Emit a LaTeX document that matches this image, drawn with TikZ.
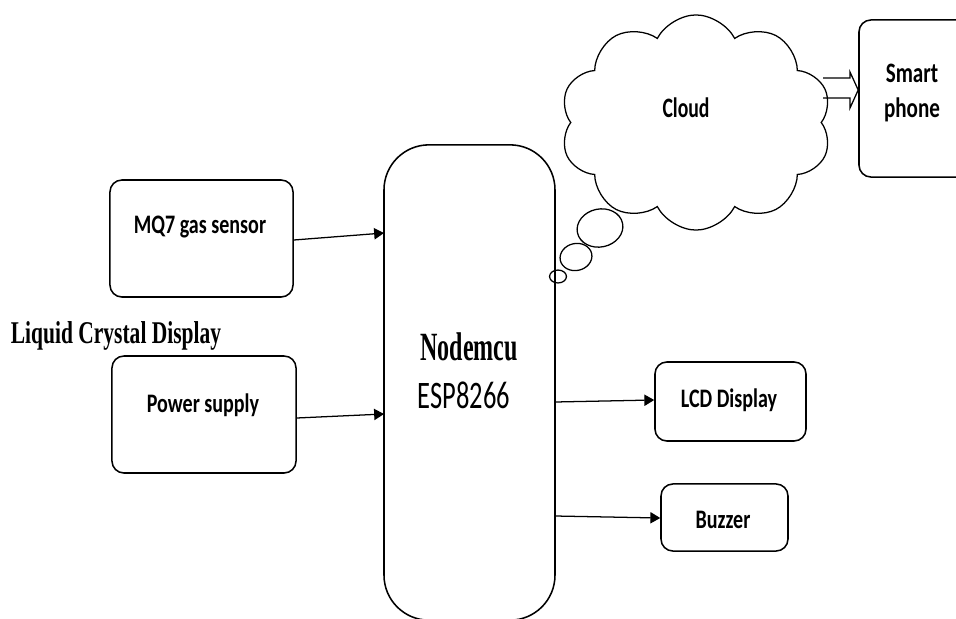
\documentclass[tikz,border=0pt]{standalone}
\usepackage{fontspec}
\setmainfont{Carlito}
\newfontfamily\tnr{Liberation Serif}
\usepackage{graphicx}
\usetikzlibrary{positioning, shapes.symbols, arrows.meta}
\newcommand{\sq}[2][.75]{\scalebox{#1}[1]{#2}}

\begin{document}
\begin{tikzpicture}[x=0.025cm, y=-0.025cm,
    blk/.style={draw, line width=1.1pt, rounded corners=8.5pt, inner sep=0pt},
    lbl/.style={font=\fontsize{19}{22}\selectfont\bfseries, inner sep=0pt, anchor=base},
    arr/.style={line width=0.9pt, -{Triangle[length=7pt,width=8pt]}},
    bub/.style={line width=0.9pt},
  ]
  \useasboundingbox (0,0) rectangle (956,619);
  % blocks
  \node[blk, minimum width=130.2pt, minimum height=83.2pt] (mq) at (201.5,238.5) {};
  \node[blk, minimum width=130.9pt, minimum height=83.2pt] (pwr) at (204,414.5) {};
  \node[blk, rounded corners=32pt, minimum width=121.6pt, minimum height=338pt] (mcu) at (469.5,382.5) {};
  \node[blk, minimum width=107.4pt, minimum height=56.2pt] (lcd) at (730.5,401.5) {};
  \node[blk, minimum width=90.3pt, minimum height=47.7pt] (buz) at (724.5,517.5) {};
  \node[blk, minimum width=100.3pt, minimum height=111.7pt] (phone) at (929.5,98.5) {};
  \node[cloud, draw, line width=0.9pt, cloud puffs=10, cloud puff arc=125, aspect=1.2,
        minimum width=193pt, minimum height=153pt, inner sep=0pt] (cloud) at (696,122.5) {};

  % labels
  \node[lbl] (mqt) at (200,233) {\sq{MQ7 gas sensor}};
  \node[lbl] (pwrt) at (203,412) {\sq{Power supply}};
  \node[lbl] (lcdt) at (729,407) {\sq{LCD Display}};
  \node[lbl] (buzt) at (723,528) {\sq{Buzzer}};
  \node[lbl, font=\fontsize{20}{22}\selectfont\bfseries] (smt) at (912,82) {\sq{Smart}};
  \node[lbl, font=\fontsize{20}{22}\selectfont\bfseries] (pht) at (912,117) {\sq{phone}};
  \node[lbl, font=\fontsize{20}{22}\selectfont\bfseries] (cldt) at (686,117) {\sq[.7]{Cloud}};
  \node[lbl, font=\fontsize{28.5}{30}\selectfont\tnr\bfseries] (mcut) at (469,360) {\sq[.6]{Nodemcu}};
  \node[lbl, font=\fontsize{27.7}{30}\selectfont] (espt) at (464,408) {\sq[.68]{ESP8266}};
  \node[lbl, font=\fontsize{22.5}{24}\selectfont\tnr\bfseries] (lqd) at (116,343) {\sq[.68]{Liquid Crystal Display}};

  % thought bubbles
  \draw[bub] (600,228) ellipse [x radius=16.4pt, y radius=13.5pt, rotate=12];
  \draw[bub] (576,257) ellipse [x radius=11.4pt, y radius=9.6pt, rotate=12];
  \draw[bub] (558,276.5) ellipse [x radius=6pt, y radius=4.6pt];

  % connections
  \coordinate (in1) at (384,233);
  \coordinate (in2) at (384,414);
  \coordinate (o1) at (555,402);
  \coordinate (o2) at (555,516);
  \draw[arr] (mq.east |- 0,240) -- (in1);
  \draw[arr] (pwr.east |- 0,418) -- (in2);
  \draw[arr] (o1) -- (lcd.west |- 0,400);
  \draw[arr] (o2) -- (buz.west |- 0,518);

  % cloud to phone
  \coordinate (tip) at (phone.west |- 0,90);
  \draw[line width=0.9pt, line join=miter]
    (823,78) -- (850,78) -- (850,72) -- (tip) -- (850,108) -- (850,98) -- (823,98);
\end{tikzpicture}
\end{document}
